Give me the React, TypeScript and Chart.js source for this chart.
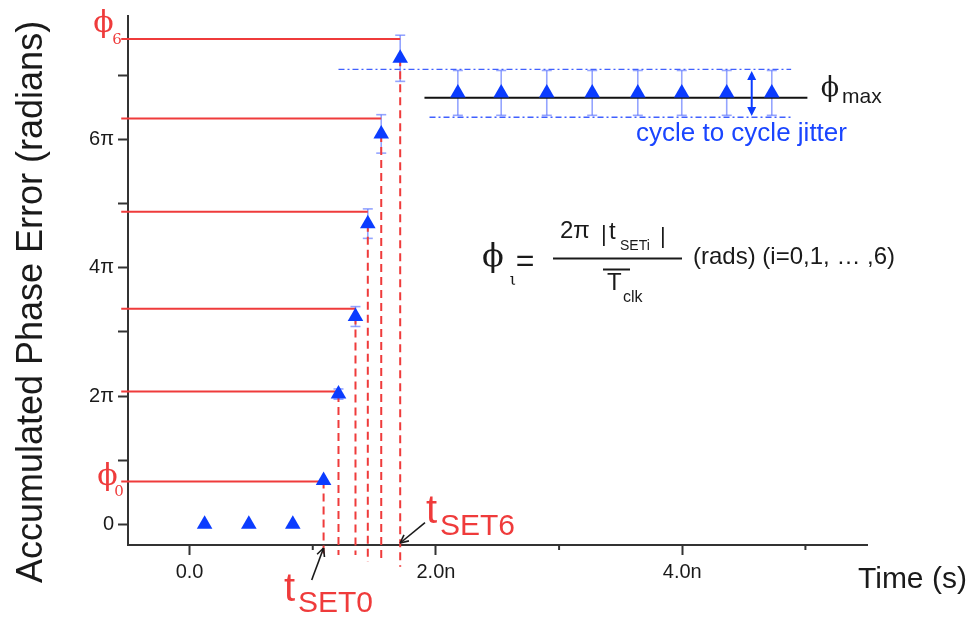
import React, { useEffect, useRef } from 'react';
import { Chart, registerables } from 'chart.js';
Chart.register(...registerables);

// ---------- data (x in ns, y in units of π rad) ----------
const zeroTimes = [0.122, 0.481, 0.838];
const zeroPhase = [0, 0, 0];
const setTimes = [1.088, 1.209, 1.347, 1.447, 1.556, 1.71];
const setPhase = [0.68, 2.03, 3.24, 4.69, 6.09, 7.27];
const setErr = [0, 0.08, 0.155, 0.23, 0.3, 0.36];
const phiLevels = [0.666, 2.07, 3.36, 4.876, 6.33, 7.57];
const levelStart = -0.555;
const dashEnds = [-0.48, -0.48, -0.48, -0.59, -0.59, -0.666];
const steadyTimes = [2.178, 2.53, 2.9, 3.269, 3.639, 3.996, 4.361, 4.727];
const steadyPhase = [6.73, 6.73, 6.73, 6.73, 6.73, 6.73, 6.73, 6.73];
const steadyErr = [0.35, 0.35, 0.35, 0.35, 0.35, 0.35, 0.35, 0.35];
const phiMaxLevel = 6.655;
const phiMaxSpan = [1.907, 5.016];
const jitterUpper = 7.098;
const jitterUpperSpan = [1.209, 4.884];
const jitterLower = 6.35;
const jitterLowerSpan = [1.948, 4.884];
const jitterArrowX = 4.564;
const jitterArrowSpan = [6.37, 7.07];
const xTickValues = [0, 1, 2, 3, 4, 5];
const xTickLabels = ['0.0', '', '2.0n', '', '4.0n', ''];
const yTickValues = [0, 1, 2, 3, 4, 5, 6, 7];
const yTickLabels = ['0', '', '2π', '', '4π', '', '6π', ''];

const RED = '#ef3b3b';
const BLUE = '#0b3cff';
const LIGHTBLUE = 'rgba(90,115,255,0.65)';
const DASHBLUE = '#4060ff';
const INK = '#1a1a1a';
const SANS = '"Liberation Sans", Arial, sans-serif';
const SERIF = '"DejaVu Serif", "Liberation Serif", serif';

function txt(ctx: CanvasRenderingContext2D, s: string, x: number, y: number, font: string, color: string, align: CanvasTextAlign = 'left', baseline: CanvasTextBaseline = 'alphabetic') {
  ctx.save();
  ctx.font = font;
  ctx.fillStyle = color;
  ctx.textAlign = align;
  ctx.textBaseline = baseline;
  ctx.fillText(s, x, y);
  ctx.restore();
}

function line(ctx: CanvasRenderingContext2D, x1: number, y1: number, x2: number, y2: number, color: string, w: number) {
  ctx.save();
  ctx.strokeStyle = color;
  ctx.lineWidth = w;
  ctx.beginPath();
  ctx.moveTo(x1, y1);
  ctx.lineTo(x2, y2);
  ctx.stroke();
  ctx.restore();
}

function openArrow(ctx: CanvasRenderingContext2D, x1: number, y1: number, x2: number, y2: number, color: string) {
  line(ctx, x1, y1, x2, y2, color, 1.6);
  const a = Math.atan2(y2 - y1, x2 - x1);
  const L = 9;
  for (const d of [0.45, -0.45]) {
    line(ctx, x2, y2, x2 - L * Math.cos(a + d), y2 - L * Math.sin(a + d), color, 1.6);
  }
}

function filledHead(ctx: CanvasRenderingContext2D, x: number, y: number, dir: number, color: string) {
  ctx.save();
  ctx.fillStyle = color;
  ctx.beginPath();
  ctx.moveTo(x, y);
  ctx.lineTo(x - 4.5, y - dir * 9);
  ctx.lineTo(x + 4.5, y - dir * 9);
  ctx.closePath();
  ctx.fill();
  ctx.restore();
}

const annotPlugin = {
  id: 'annot',
  beforeDatasetsDraw(chart: any) {
    const ctx = chart.ctx as CanvasRenderingContext2D;
    const xs = chart.scales.x, ys = chart.scales.y;
    const bars = (tx: number[], py: number[], er: number[]) => {
      tx.forEach((t, i) => {
        if (!er[i]) return;
        const x = xs.getPixelForValue(t);
        const y1 = ys.getPixelForValue(py[i] + er[i]);
        const y2 = ys.getPixelForValue(py[i] - er[i]);
        line(ctx, x, y1, x, y2, LIGHTBLUE, 1.6);
        line(ctx, x - 5, y1, x + 5, y1, LIGHTBLUE, 1.6);
        line(ctx, x - 5, y2, x + 5, y2, LIGHTBLUE, 1.6);
      });
    };
    bars(setTimes, setPhase, setErr);
    bars(steadyTimes, steadyPhase, steadyErr);
  },
  afterDraw(chart: any) {
    const ctx = chart.ctx as CanvasRenderingContext2D;
    const xs = chart.scales.x, ys = chart.scales.y;
    const area = chart.chartArea;
    // minor x ticks
    xTickValues.forEach((v, i) => {
      if (xTickLabels[i] === '') {
        const x = xs.getPixelForValue(v);
        line(ctx, x, area.bottom, x, area.bottom + 5, '#333', 2);
      }
    });
    // jitter double arrow
    const ax = xs.getPixelForValue(jitterArrowX);
    const ay1 = ys.getPixelForValue(jitterArrowSpan[1]);
    const ay2 = ys.getPixelForValue(jitterArrowSpan[0]);
    line(ctx, ax, ay1 + 6, ax, ay2 - 6, BLUE, 2);
    filledHead(ctx, ax, ay1, -1, BLUE);
    filledHead(ctx, ax, ay2, 1, BLUE);

    // axis titles
    ctx.save();
    ctx.translate(41.5, 302);
    ctx.rotate(-Math.PI / 2);
    txt(ctx, 'Accumulated Phase Error (radians)', 0, 0, `36px ${SANS}`, INK, 'center');
    ctx.restore();
    txt(ctx, 'Time (s)', 858, 588, `30px ${SANS}`, INK);

    // phi labels
    txt(ctx, 'ϕ', 103.5, 24, `30px ${SERIF}`, RED, 'center', 'middle');
    txt(ctx, '6', 117, 40, `15px ${SERIF}`, RED, 'center', 'middle');
    txt(ctx, 'ϕ', 107.5, 477, `30px ${SERIF}`, RED, 'center', 'middle');
    txt(ctx, '0', 119, 492.5, `15px ${SERIF}`, RED, 'center', 'middle');

    // phi max & jitter text
    txt(ctx, 'ϕ', 830, 89, `27px ${SERIF}`, INK, 'center', 'middle');
    txt(ctx, 'max', 842, 103, `21px ${SANS}`, INK);
    txt(ctx, 'cycle to cycle jitter', 636, 141, `26px ${SANS}`, '#1a45ff');

    // tSET labels and arrows
    txt(ctx, 't', 284, 601, `40px ${SANS}`, RED);
    txt(ctx, 'SET0', 298, 611.5, `30px ${SANS}`, RED);
    txt(ctx, 't', 426, 523, `40px ${SANS}`, RED);
    txt(ctx, 'SET6', 440, 535, `30px ${SANS}`, RED);
    openArrow(ctx, 311.7, 580, xs.getPixelForValue(setTimes[0]), area.bottom + 3, INK);
    openArrow(ctx, 425, 522.7, xs.getPixelForValue(setTimes[5]), area.bottom - 2, INK);

    // formula
    txt(ctx, 'ϕ', 493, 258, `32px ${SERIF}`, INK, 'center', 'middle');
    txt(ctx, 'ι', 513, 281, `16px ${SERIF}`, INK, 'center', 'middle');
    txt(ctx, '=', 525, 262, `32px ${SANS}`, INK, 'center', 'middle');
    line(ctx, 553, 258.5, 682, 258.5, INK, 2);
    txt(ctx, '2π', 560, 238, `24px ${SANS}`, INK);
    txt(ctx, '|', 601, 241, `22px ${SANS}`, INK);
    txt(ctx, 't', 609, 239, `24px ${SANS}`, INK);
    txt(ctx, 'SETi', 620, 250, `14px ${SANS}`, INK);
    txt(ctx, '|', 660, 243, `22px ${SANS}`, INK);
    txt(ctx, 'T', 607, 290, `24px ${SANS}`, INK);
    line(ctx, 603, 269.5, 630, 269.5, INK, 2);
    txt(ctx, 'clk', 623, 301.5, `16px ${SANS}`, INK);
    txt(ctx, '(rads) (i=0,1, … ,6)', 693, 263.5, `24px ${SANS}`, INK);
  },
};

function seg(x1: number, y1: number, x2: number, y2: number) {
  return [{ x: x1, y: y1 }, { x: x2, y: y2 }];
}

export default function App() {
  const ref = useRef<HTMLCanvasElement | null>(null);
  useEffect(() => {
    if (!ref.current) return;
    const pointStyle = {
      pointStyle: 'triangle' as const,
      pointRadius: 9,
      pointBackgroundColor: BLUE,
      pointBorderWidth: 0,
      showLine: false,
    };
    const datasets: any[] = [
      { data: zeroTimes.map((t, i) => ({ x: t, y: zeroPhase[i] })), ...pointStyle },
      { data: setTimes.map((t, i) => ({ x: t, y: setPhase[i] })), ...pointStyle },
      { data: steadyTimes.map((t, i) => ({ x: t, y: steadyPhase[i] })), ...pointStyle },
    ];
    phiLevels.forEach((lv, i) => {
      datasets.push({
        data: seg(levelStart, lv, setTimes[i], lv), showLine: true, borderColor: RED, borderWidth: 2,
        pointRadius: 0, clip: false,
      });
      datasets.push({
        data: seg(setTimes[i], setPhase[i], setTimes[i], dashEnds[i]), showLine: true, borderColor: RED,
        borderWidth: 2, borderDash: [8, 5], pointRadius: 0, clip: false,
      });
    });
    datasets.push({
      data: seg(phiMaxSpan[0], phiMaxLevel, phiMaxSpan[1], phiMaxLevel), showLine: true, borderColor: '#111',
      borderWidth: 2, pointRadius: 0, clip: false,
    });
    datasets.push({
      data: seg(jitterUpperSpan[0], jitterUpper, jitterUpperSpan[1], jitterUpper), showLine: true, borderColor: DASHBLUE,
      borderWidth: 1.3, borderDash: [6, 3, 2, 3], pointRadius: 0, clip: false,
    });
    datasets.push({
      data: seg(jitterLowerSpan[0], jitterLower, jitterLowerSpan[1], jitterLower), showLine: true, borderColor: DASHBLUE,
      borderWidth: 1.3, borderDash: [6, 3, 2, 3], pointRadius: 0, clip: false,
    });

    const chart = new Chart(ref.current, {
      type: 'scatter',
      data: { datasets },
      plugins: [annotPlugin as any],
      options: {
        responsive: false,
        animation: false,
        events: [],
        layout: { padding: { left: 0, top: 12, right: 109, bottom: 33 } },
        plugins: { legend: { display: false }, tooltip: { enabled: false } },
        scales: {
          x: {
            type: 'linear',
            min: -0.5,
            max: 5.5,
            afterBuildTicks: (s: any) => { s.ticks = xTickValues.map((v) => ({ value: v })); },
            afterFit: (s: any) => { s.height = 40; },
            ticks: {
              autoSkip: false,
              maxRotation: 0,
              padding: 5,
              color: INK,
              font: { family: SANS, size: 20 },
              callback: (v: any) => xTickLabels[xTickValues.indexOf(Number(v))] ?? '',
            },
            grid: {
              drawOnChartArea: false,
              drawTicks: true,
              tickLength: 10,
              tickWidth: 2,
              tickColor: (c: any) => (c.tick && xTickLabels[xTickValues.indexOf(c.tick.value)] === '' ? 'rgba(0,0,0,0)' : '#333'),
            },
            border: { display: true, color: '#333', width: 2 },
          },
          y: {
            type: 'linear',
            min: -0.325,
            max: 7.93,
            afterBuildTicks: (s: any) => { s.ticks = yTickValues.map((v) => ({ value: v })); },
            afterFit: (s: any) => { s.width = 128; },
            ticks: {
              autoSkip: false,
              padding: 4,
              color: INK,
              font: { family: SANS, size: 20 },
              callback: (v: any) => yTickLabels[yTickValues.indexOf(Number(v))] ?? '',
            },
            grid: {
              drawOnChartArea: false,
              drawTicks: true,
              tickLength: 10,
              tickWidth: 2,
              tickColor: '#333',
            },
            border: { display: true, color: '#333', width: 2 },
          },
        },
      },
    });
    return () => chart.destroy();
  }, []);
  return (
    <div style={{ position: 'absolute', left: 0, top: 0, width: 976, height: 618, background: '#fff' }}>
      <canvas ref={ref} width={976} height={618} style={{ display: 'block' }} />
    </div>
  );
}
